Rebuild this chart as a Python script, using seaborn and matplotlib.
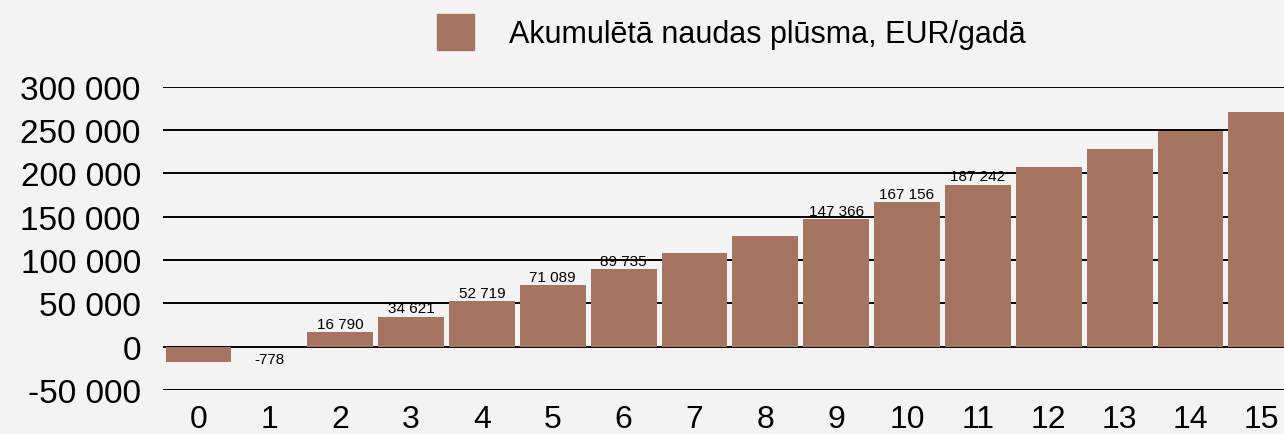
import seaborn as sns
import matplotlib.pyplot as plt
import matplotlib.patches as mpatches
from matplotlib.ticker import FuncFormatter
import pandas as pd

# cumulative cash flow per year
years = list(range(16))
cash_flow = [-18000, -778, 16790, 34621, 52719, 71089, 89735, 108650,
             127850, 147366, 167156, 187242, 207600, 228300, 249300, 270600]
labelled = [1, 2, 3, 4, 5, 6, 9, 10, 11]
series_name = 'Akumulētā naudas plūsma, EUR/gadā'
y_ticks = [-50000, 0, 50000, 100000, 150000, 200000, 250000, 300000]

bar_color = '#a57561'
bg = '#f3f3f3'


def fmt(v):
    return f"{int(v):,}".replace(",", " ")


df = pd.DataFrame({'year': years, 'value': cash_flow})

sns.set_style("white", {"axes.facecolor": bg, "figure.facecolor": bg,
                        "text.color": "black", "xtick.color": "black",
                        "ytick.color": "black"})
plt.rcParams['font.family'] = ['Liberation Sans', 'DejaVu Sans']

fig = plt.figure(figsize=(12.84, 4.35), dpi=100)
ax = fig.add_axes([0.127, 0.101, 0.873, 0.697])

sns.barplot(data=df, x='year', y='value', color=bar_color, saturation=1,
            width=0.93, linewidth=0, ax=ax, zorder=2)

ax.set_ylim(-50000, 300000)
ax.set_xlim(-0.5, 15.32)
ax.set_yticks(y_ticks)
ax.yaxis.set_major_formatter(FuncFormatter(lambda v, p: fmt(v)))
ax.set_axisbelow(True)
ax.grid(axis='y', color='black', linewidth=1.4)
ax.grid(axis='x', visible=False)
for s in ax.spines.values():
    s.set_visible(False)
ax.tick_params(axis='both', length=0, labelsize=23, labelcolor='black')
ax.tick_params(axis='y', pad=16, labelsize=24)
ax.tick_params(axis='x', pad=10)
ax.set_xlabel('')
ax.set_ylabel('')

# value labels on selected bars
for i in labelled:
    v = cash_flow[i]
    if v >= 0:
        ax.annotate(fmt(v), (i, v), xytext=(0, 1), textcoords='offset points',
                    ha='center', va='bottom', fontsize=11, color='black')
    else:
        ax.annotate(fmt(v), (i, v), xytext=(0, -3), textcoords='offset points',
                    ha='center', va='top', fontsize=11, color='black')

handle = mpatches.Patch(color=bar_color, label=series_name)
leg = fig.legend(handles=[handle], loc='upper left',
                 bbox_to_anchor=(437 / 1284, 1 - 15 / 435),
                 frameon=False, fontsize=22, borderpad=0, borderaxespad=0,
                 handlelength=1.2, handleheight=1.45, handletextpad=1.15)
for t in leg.get_texts():
    t.set_color('black')

plt.savefig('out.png', dpi=100, facecolor=bg)
plt.close()
